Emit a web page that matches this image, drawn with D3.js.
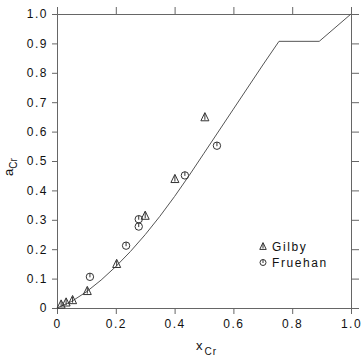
<!DOCTYPE html>
<html>
<head>
<meta charset="utf-8">
<script src="https://cdn.jsdelivr.net/npm/d3@7"></script>
<style>
  body { margin: 0; background: #fff; }
  text { font-family: "Liberation Sans", Arial, sans-serif; fill: #111; }
</style>
</head>
<body>
<div id="chart"></div>
<script>
// Data
const curveX = [0, 0.05, 0.1, 0.15, 0.2, 0.25, 0.3, 0.35, 0.4, 0.45, 0.5, 0.6, 0.7, 0.755, 0.892, 1.0];
const curveY = [0, 0.0225, 0.055, 0.095, 0.141, 0.1925, 0.2495, 0.312, 0.3795, 0.4515, 0.5265, 0.6765, 0.8265, 0.907, 0.907, 1.0];

const gilbyX = [0.014, 0.031, 0.053, 0.103, 0.203, 0.3, 0.401, 0.503];
const gilbyY = [0.012, 0.019, 0.027, 0.058, 0.15, 0.314, 0.439, 0.649];

const fruehanX = [0.112, 0.235, 0.278, 0.278, 0.435, 0.544];
const fruehanY = [0.106, 0.212, 0.277, 0.302, 0.451, 0.552];

const xTicks = [0, 0.2, 0.4, 0.6, 0.8, 1.0];
const yTicks = [0, 0.1, 0.2, 0.3, 0.4, 0.5, 0.6, 0.7, 0.8, 0.9, 1.0];

// Dimensions
let dimensions = {
  width: 361,
  height: 363,
  margins: { top: 14, right: 10, bottom: 55, left: 57 },
};
dimensions.ctrWidth = dimensions.width - dimensions.margins.left - dimensions.margins.right;
dimensions.ctrHeight = dimensions.height - dimensions.margins.top - dimensions.margins.bottom;

const svg = d3
  .select("#chart")
  .append("svg")
  .attr("width", dimensions.width)
  .attr("height", dimensions.height);

const ctr = svg
  .append("g")
  .attr("transform", `translate(${dimensions.margins.left}, ${dimensions.margins.top})`);

// Scales
const xScale = d3.scaleLinear().domain([0, 1]).range([0, dimensions.ctrWidth]);
const yScale = d3.scaleLinear().domain([0, 1]).range([dimensions.ctrHeight, 0]);

const fmt = (d) => (d === 0 ? "0" : d3.format(".1f")(d));
const axisColor = "#666";

function styleAxis(g) {
  g.select(".domain").attr("stroke", axisColor);
  g.selectAll(".tick line").attr("stroke", axisColor);
  g.selectAll(".tick text")
    .style("font-family", '"Liberation Sans", Arial, sans-serif')
    .style("font-size", "12px")
    .style("letter-spacing", "1.5px")
    .attr("fill", "#111");
}

ctr.append("g")
  .attr("transform", `translate(0, ${dimensions.ctrHeight})`)
  .call(d3.axisBottom(xScale).tickValues(xTicks).tickFormat(fmt).tickSizeOuter(0).tickSize(6).tickPadding(5))
  .call(styleAxis);

ctr.append("g")
  .call(d3.axisTop(xScale).tickValues(xTicks).tickFormat("").tickSizeOuter(0).tickSize(7))
  .call(styleAxis);

ctr.append("g")
  .call(d3.axisLeft(yScale).tickValues(yTicks).tickFormat(fmt).tickSizeOuter(0).tickSize(5).tickPadding(4))
  .call(styleAxis);

ctr.append("g")
  .attr("transform", `translate(${dimensions.ctrWidth}, 0)`)
  .call(d3.axisRight(yScale).tickValues(yTicks).tickFormat("").tickSizeOuter(0).tickSize(8))
  .call(styleAxis);

// Curve
const line = d3.line()
  .x((d, i) => xScale(curveX[i]))
  .y((d, i) => yScale(curveY[i]));

ctr.append("path")
  .datum(curveX)
  .attr("d", line)
  .attr("fill", "none")
  .attr("stroke", "#555")
  .attr("stroke-width", 1);

// Markers
function triangle(g, s) {
  const h = s * 0.9;
  g.append("path")
    .attr("d", `M0,${-h / 2 - 1}L${s / 2},${h / 2}L${-s / 2},${h / 2}Z M0,${-h / 2}L0,${h / 2 - 1}`)
    .attr("fill", "none")
    .attr("stroke", "#333")
    .attr("stroke-width", 1);
}
function circleMark(g, r) {
  g.append("circle").attr("r", r).attr("fill", "none").attr("stroke", "#333").attr("stroke-width", 1);
  g.append("line").attr("x1", 0).attr("y1", -r).attr("x2", 0).attr("y2", 0.5)
    .attr("stroke", "#333").attr("stroke-width", 1);
}

ctr.append("g")
  .selectAll("g")
  .data(gilbyX)
  .join("g")
  .attr("transform", (d, i) => `translate(${xScale(d)}, ${yScale(gilbyY[i])})`)
  .each(function () { triangle(d3.select(this), 8); });

ctr.append("g")
  .selectAll("g")
  .data(fruehanX)
  .join("g")
  .attr("transform", (d, i) => `translate(${xScale(d)}, ${yScale(fruehanY[i])})`)
  .each(function () { circleMark(d3.select(this), 3.7); });

// Legend
const legend = svg.append("g").attr("transform", "translate(263, 0)");
triangle(legend.append("g").attr("transform", "translate(0, 246.5)"), 6.5);
circleMark(legend.append("g").attr("transform", "translate(0, 262.5)"), 3);
legend.append("text").attr("x", 9).attr("y", 251).text("Gilby")
  .style("font-size", "12px").style("letter-spacing", "1.6px");
legend.append("text").attr("x", 9).attr("y", 267).text("Fruehan")
  .style("font-size", "12px").style("letter-spacing", "1.6px");

// Axis labels
const xl = svg.append("text")
  .attr("x", 196)
  .attr("y", 350)
  .style("font-size", "13px");
xl.append("tspan").text("x");
xl.append("tspan").attr("dy", 5).attr("dx", 2).style("font-size", "10px").style("letter-spacing", "1px").text("Cr");

const yl = svg.append("text")
  .attr("transform", "translate(13, 176) rotate(-90)")
  .style("font-size", "13px");
yl.append("tspan").text("a");
yl.append("tspan").attr("dy", 4).attr("dx", 0).style("font-size", "10px").text("Cr");
</script>
</body>
</html>
